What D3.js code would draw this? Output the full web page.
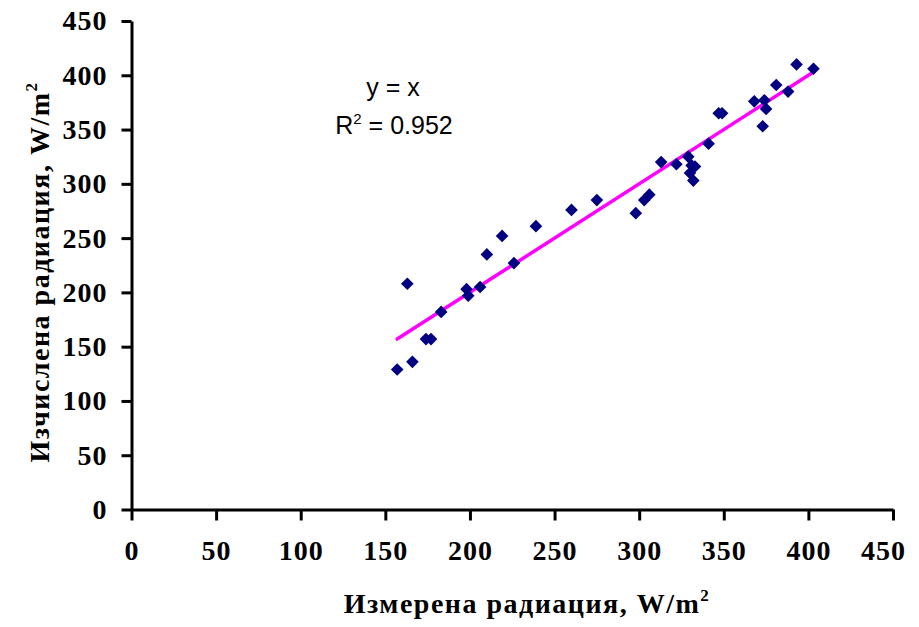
<!DOCTYPE html>
<html>
<head>
<meta charset="utf-8">
<script src="https://cdn.jsdelivr.net/npm/d3@7"></script>
<style>
  body { margin: 0; background: #fff; }
</style>
</head>
<body>
<div id="chart"></div>
<script>
// Data
const measured = [157, 163, 166, 174, 177, 183, 198, 199, 206, 210, 219, 226, 239, 260, 275,
  298, 303, 306, 313, 322, 329, 330, 331, 333, 332, 341, 347, 349, 368, 374, 375, 373, 381, 388, 393, 403];
const calculated = [129, 208, 136, 157, 157, 182, 203, 197, 205, 235, 252, 227, 261, 276, 285,
  273, 285, 290, 320, 318, 325, 310, 317, 316, 303, 337, 365, 365, 376, 377, 369, 353, 391, 385, 410, 406];
const ticks = [0, 50, 100, 150, 200, 250, 300, 350, 400, 450];

const width = 919;
const height = 627;

const svg = d3
  .select("#chart")
  .append("svg")
  .attr("width", width)
  .attr("height", height);

const x = d3.scaleLinear().domain([0, 450]).range([131.5, 893]);
const y = d3.scaleLinear().domain([0, 450]).range([509.5, 21]);

const serif = "'Liberation Serif', 'Times New Roman', serif";

// Axes
const xAxis = svg.append("g")
  .attr("transform", `translate(0, ${y(0)})`)
  .call(d3.axisBottom(x).tickValues(ticks).tickSize(11).tickPadding(20).tickSizeOuter(0));

const yAxis = svg.append("g")
  .attr("transform", `translate(${x(0)}, 0)`)
  .call(d3.axisLeft(y).tickValues(ticks).tickSize(10).tickPadding(14).tickSizeOuter(0));

[xAxis, yAxis].forEach((g) => {
  g.select(".domain").attr("stroke", "#000").attr("stroke-width", 3);
  g.selectAll(".tick line").attr("stroke", "#000").attr("stroke-width", 3);
  g.selectAll(".tick text")
    .attr("fill", "#000")
    .style("font-family", serif)
    .style("font-weight", "bold")
    .style("font-size", "28px")
    .style("letter-spacing", "1px");
});
// last x label sits a bit left of its tick, as in the original
xAxis.selectAll(".tick text").filter((d) => d === 450).attr("dx", -10);

// Trend line y = x
const xMin = d3.min(measured);
const xMax = d3.max(measured);
svg.append("line")
  .attr("x1", x(xMin))
  .attr("y1", y(xMin))
  .attr("x2", x(xMax))
  .attr("y2", y(xMax))
  .attr("stroke", "#ff00ff")
  .attr("stroke-width", 3.5)
  .attr("stroke-linecap", "round");

// Points
const symbol = d3.symbol().type(d3.symbolSquare).size(80);
svg.selectAll("path.pt")
  .data(measured.map((m, i) => [m, calculated[i]]))
  .enter()
  .append("path")
  .attr("class", "pt")
  .attr("d", symbol)
  .attr("transform", (d) => `translate(${x(d[0])}, ${y(d[1])}) rotate(45)`)
  .attr("fill", "#000080");

// Equation text
const eq = svg.append("g")
  .style("font-family", "'Liberation Sans', Arial, sans-serif")
  .style("font-size", "25px")
  .attr("fill", "#000");
eq.append("text").attr("x", 393).attr("y", 96).attr("text-anchor", "middle").text("y = x");
const r2 = eq.append("text").attr("x", 394).attr("y", 134).attr("text-anchor", "middle");
r2.append("tspan").text("R");
r2.append("tspan").attr("dy", -10).style("font-size", "15px").text("2");
r2.append("tspan").attr("dy", 10).text(" = 0.952");

// Axis titles
const titleStyle = (t) => t
  .style("font-family", serif)
  .style("font-weight", "bold")
  .style("font-size", "28px")
  .style("letter-spacing", "1.5px")
  .attr("fill", "#000")
  .attr("text-anchor", "middle");

const xt = svg.append("text").attr("x", 527).attr("y", 613).call(titleStyle);
xt.append("tspan").text("Измерена радиация, W/m");
xt.append("tspan").attr("dy", -12).style("font-size", "17px").text("2");

const yt = svg.append("text")
  .attr("transform", "translate(49, 272) rotate(-90)")
  .call(titleStyle);
yt.append("tspan").text("Изчислена радиация, W/m");
yt.append("tspan").attr("dy", -12).style("font-size", "17px").text("2");
</script>
</body>
</html>
